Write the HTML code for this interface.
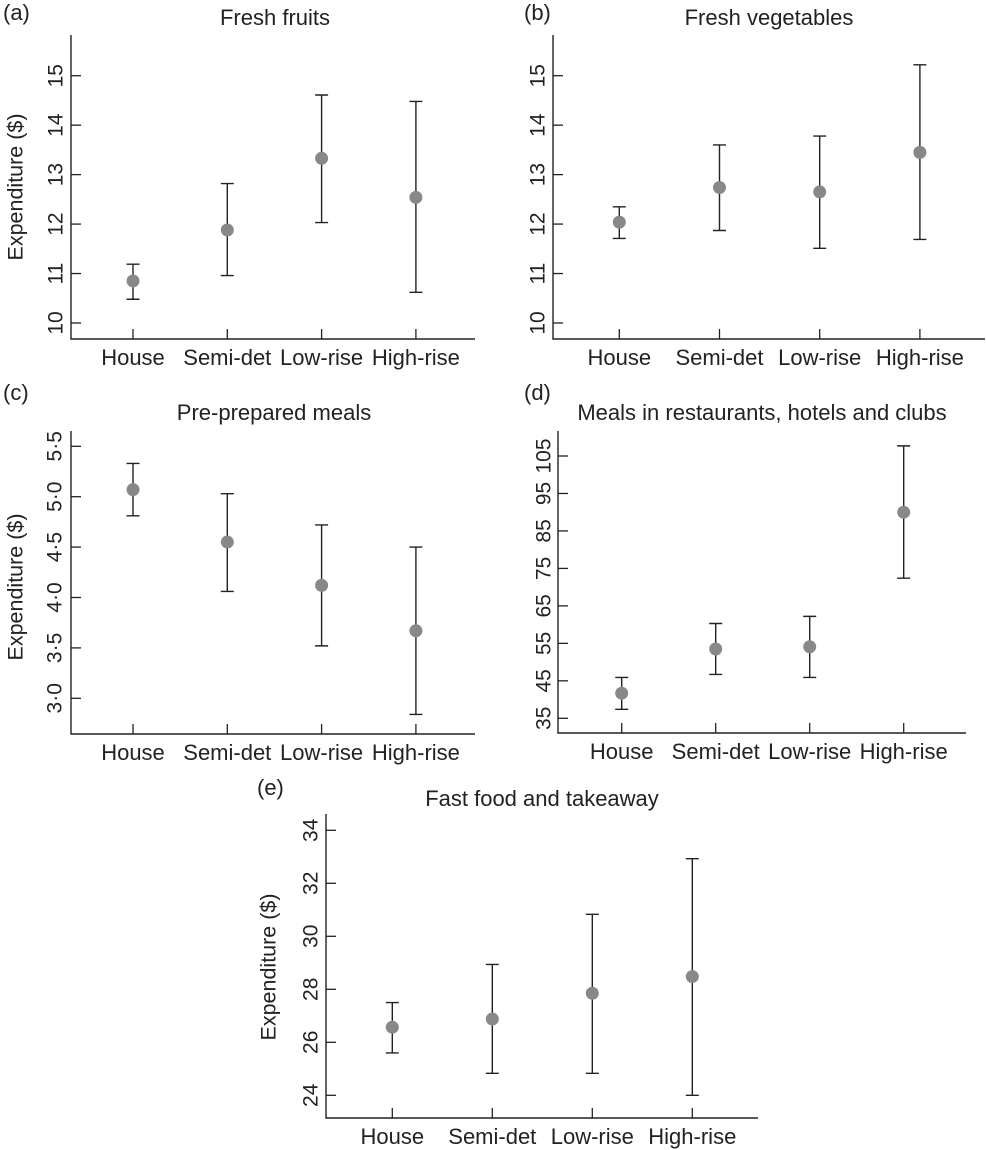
<!DOCTYPE html>
<html><head><meta charset="utf-8"><style>
html,body{margin:0;padding:0;background:#fff;}
svg{display:block;font-family:"Liberation Sans",Arial,sans-serif;}
</style></head><body>
<svg id="fig" width="986" height="1150" viewBox="0 0 986 1150" xmlns="http://www.w3.org/2000/svg"></svg>
<script>
const categories = ["House","Semi-det","Low-rise","High-rise"];
const fruitMean = [10.85, 11.88, 13.33, 12.54];
const fruitLo = [10.48, 10.96, 12.03, 10.62];
const fruitHi = [11.19, 12.82, 14.61, 14.48];
const vegMean = [12.04, 12.74, 12.65, 13.45];
const vegLo = [11.71, 11.87, 11.51, 11.69];
const vegHi = [12.35, 13.60, 13.78, 15.22];
const mealMean = [5.07, 4.55, 4.12, 3.67];
const mealLo = [4.81, 4.06, 3.52, 2.84];
const mealHi = [5.33, 5.03, 4.72, 4.50];
const restMean = [41.7, 53.5, 54.1, 90.0];
const restLo = [37.4, 46.7, 45.9, 72.4];
const restHi = [45.9, 60.3, 62.2, 107.7];
const fastMean = [26.57, 26.88, 27.85, 28.48];
const fastLo = [25.6, 24.83, 24.83, 24.0];
const fastHi = [27.5, 28.94, 30.83, 32.93];
const ticksAB = [10, 11, 12, 13, 14, 15];
const ticksC = [3.0, 3.5, 4.0, 4.5, 5.0, 5.5];
const tickLabelsC = ["3·0","3·5","4·0","4·5","5·0","5·5"];
const ticksD = [35, 45, 55, 65, 75, 85, 95, 105];
const ticksE = [24, 26, 28, 30, 32, 34];

const NS = "http://www.w3.org/2000/svg";
const svg = document.getElementById("fig");
function mk(tag, attrs, parent, text){
  const e = document.createElementNS(NS, tag);
  for (const k in attrs) e.setAttribute(k, attrs[k]);
  if (text !== undefined) e.textContent = text;
  (parent || svg).appendChild(e);
  return e;
}
function panel(p){
  const g = mk("g", {});
  
  
  const yScale = v => p.yTop + (p.v0 - v) * (p.yBot - p.yTop) / (p.v0 - p.v1);
  const xScale = i => p.cx0 + i * p.dx;
  const lab = mk("text", {x: p.labX, y: p.labY, "font-size": 22, fill: "#222"}, g, "(" + p.id + ")");
  
  
  const t = mk("text", {x: p.titleX, y: p.titleY, "font-size": 22, fill: "#222", "text-anchor": "middle"}, g, p.title);
  
  
  const ax = mk("path", {d: `M${p.ax},${p.top} V${p.bot} H${p.right}`, stroke: "#222", "stroke-width": 1.4, fill: "none"}, g);
  
  
  p.ticks.forEach((v, i) => {
    const y = yScale(v);
    const tk = mk("line", {x1: p.ax, x2: p.ax + 10, y1: y, y2: y, stroke: "#222", "stroke-width": 1.3}, g);
    
    
    const tl = mk("text", {x: 0, y: 0, "font-size": 21, fill: "#222", "text-anchor": "middle",
      transform: `translate(${p.tlX},${y}) rotate(-90)`, dy: "0.35em"}, g, p.tickLabels ? p.tickLabels[i] : String(v));
    
    
  });
  if (p.yTitle) {
    const yt = mk("text", {x: 0, y: 0, "font-size": 21.5, fill: "#222", "text-anchor": "middle",
      transform: `translate(${p.ytX},${p.ytY}) rotate(-90)`, dy: "0.35em"}, g, "Expenditure ($)");
    
    
  }
  categories.forEach((c, i) => {
    const x = xScale(i);
    const tk = mk("line", {x1: x, x2: x, y1: p.bot, y2: p.bot - 10, stroke: "#222", "stroke-width": 1.3}, g);
    
    
    const cl = mk("text", {x: x, y: p.bot + 26, "font-size": 22, fill: "#222", "text-anchor": "middle"}, g, c);
    
    
    const yH = yScale(p.hi[i]), yL = yScale(p.lo[i]);
    const eb = mk("path", {d: `M${x},${yH} V${yL} M${x-6.5},${yH} H${x+6.5} M${x-6.5},${yL} H${x+6.5}`,
      stroke: "#222", "stroke-width": 1.4, fill: "none"}, g);
    
    
    const d = mk("circle", {cx: x, cy: yScale(p.mean[i]), r: 6.5, fill: "#888"}, g);
    
    
  });
}
panel({id:"a", title:"Fresh fruits", titleX:275, titleY:25, labX:3, labY:20,
  ax:71, top:35, bot:339, right:475, v0:15, v1:10, yTop:75.7, yBot:323,
  cx0:133, dx:94.3, ticks:ticksAB, tlX:55, yTitle:true, ytX:15, ytY:187,
  mean:fruitMean, lo:fruitLo, hi:fruitHi});
panel({id:"b", title:"Fresh vegetables", titleX:769, titleY:25, labX:524, labY:20,
  ax:553, top:35, bot:339, right:985, v0:15, v1:10, yTop:75.7, yBot:323,
  cx0:619.3, dx:100.2, ticks:ticksAB, tlX:537, yTitle:false,
  mean:vegMean, lo:vegLo, hi:vegHi});
panel({id:"c", title:"Pre-prepared meals", titleX:274, titleY:420, labX:3, labY:400,
  ax:71, top:431, bot:734, right:475, v0:5.5, v1:3.0, yTop:446.3, yBot:698.3,
  cx0:133, dx:94.3, ticks:ticksC, tickLabels:tickLabelsC, tlX:54, yTitle:true, ytX:15, ytY:587,
  mean:mealMean, lo:mealLo, hi:mealHi});
panel({id:"d", title:"Meals in restaurants, hotels and clubs", titleX:762, titleY:420, labX:524, labY:400,
  ax:558, top:431, bot:733, right:966, v0:105, v1:35, yTop:456, yBot:718.3,
  cx0:621.7, dx:94, ticks:ticksD, tlX:543, yTitle:false,
  mean:restMean, lo:restLo, hi:restHi});
panel({id:"e", title:"Fast food and takeaway", titleX:542, titleY:806, labX:257, labY:795,
  ax:326, top:814, bot:1118, right:758, v0:34, v1:24, yTop:830.3, yBot:1095.3,
  cx0:392.3, dx:100, ticks:ticksE, tlX:310, yTitle:true, ytX:268, ytY:967,
  mean:fastMean, lo:fastLo, hi:fastHi});
</script>
</body></html>
